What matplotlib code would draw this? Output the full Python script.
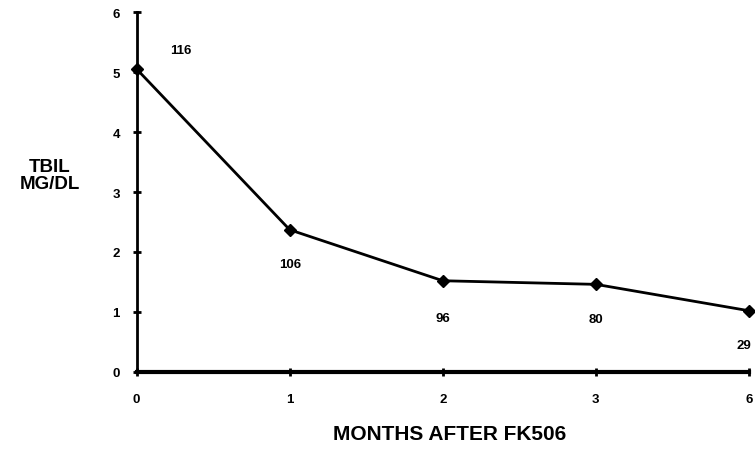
import matplotlib.pyplot as plt

months = ["0", "1", "2", "3", "6"]
tbil = [5.05, 2.37, 1.52, 1.46, 1.02]
n_patients = ["116", "106", "96", "80", "29"]
y_ticks = [0, 1, 2, 3, 4, 5, 6]

plt.rcParams['font.family'] = ['Liberation Sans', 'DejaVu Sans']

fig = plt.figure(figsize=(7.55, 4.52), dpi=100)
ax = fig.add_axes([0.181, 0.175, 0.811, 0.796])

x = list(range(len(months)))
ax.plot(x, tbil, color='black', linewidth=2, marker='D', markersize=6.5,
        clip_on=False, zorder=3)

# patient counts near each point
offsets = [(0.29, 0.32), (0.0, -0.57), (0.0, -0.62), (0.0, -0.57), (-0.03, -0.57)]
for xi, yi, lab, (dx, dy) in zip(x, tbil, n_patients, offsets):
    ax.text(xi + dx, yi + dy, lab, ha='center', va='center',
            fontsize=9.5, fontweight='bold', clip_on=False)

ax.set_xlim(0, 4)
ax.set_ylim(0, 6)
ax.set_xticks(x)
ax.set_xticklabels(months)
ax.set_yticks(y_ticks)

for side in ['top', 'right']:
    ax.spines[side].set_visible(False)
ax.spines['left'].set_linewidth(2)
ax.spines['bottom'].set_linewidth(3)
ax.tick_params(direction='inout', length=6, width=2, labelsize=9.5)
ax.tick_params(axis='x', pad=12)
ax.tick_params(axis='y', pad=9)
for lab in ax.get_xticklabels() + ax.get_yticklabels():
    lab.set_fontweight('bold')

ax.set_xlabel('MONTHS AFTER FK506', fontsize=15, fontweight='bold')
ax.xaxis.set_label_coords(0.511, -0.145)
fig.text(0.066, 0.61, 'TBIL\nMG/DL', ha='center', va='center',
         fontsize=13.5, fontweight='bold', linespacing=1.0)

fig.savefig('out.png', dpi=100)
